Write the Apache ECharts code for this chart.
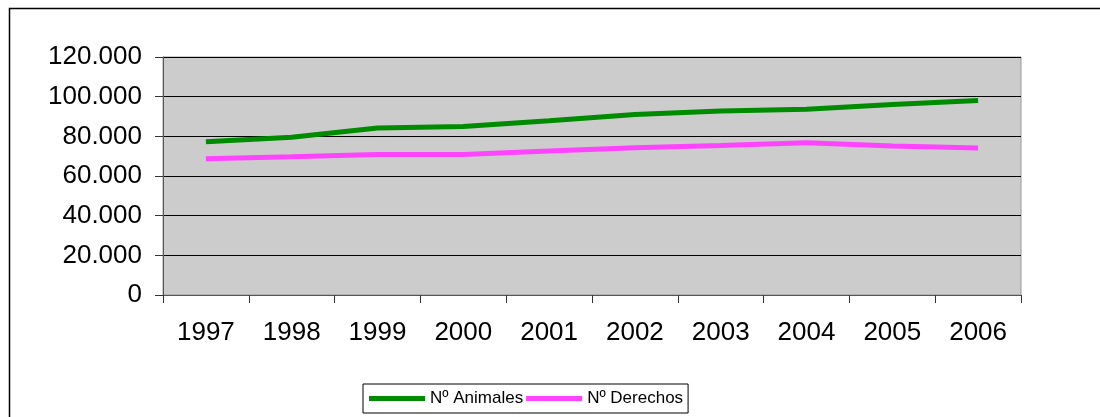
<!DOCTYPE html>
<html>
<head>
<meta charset="utf-8">
<script src="https://cdn.jsdelivr.net/npm/echarts@6/dist/echarts.min.js"></script>
<style>
html,body{margin:0;padding:0;background:#fff;}
#c{width:1100px;height:417px;}
</style>
</head>
<body>
<div id="c"></div>
<script>
const categories = ['1997','1998','1999','2000','2001','2002','2003','2004','2005','2006'];
const animales = [77300, 79500, 84200, 85000, 87800, 91000, 92800, 93600, 96000, 98100];
const derechos = [68700, 69700, 70900, 70900, 72600, 74300, 75400, 76800, 75100, 74100];
const seriesNames = ['Nº Animales', 'Nº Derechos'];

const chart = echarts.init(document.getElementById('c'), null, {renderer: 'canvas'});
const FONT = 'Liberation Sans, Arial, sans-serif';
chart.setOption({
  animation: false,
  backgroundColor: '#ffffff',
  graphic: [{
    type: 'rect', left: 7, top: 6,
    shape: {width: 1200, height: 500},
    style: {fill: 'none', stroke: '#000', lineWidth: 1.5},
    z: -10
  }],
  grid: {
    left: 163, top: 57, right: 79, bottom: 122,
    show: true, backgroundColor: '#CCCCCC', borderColor: '#999999', borderWidth: 1
  },
  legend: {
    left: 363, top: 384,
    padding: [6, 5, 6, 6],
    borderColor: '#000', borderWidth: 1,
    itemGap: 3, itemWidth: 56, itemHeight: 5,
    icon: 'rect',
    textStyle: {fontFamily: FONT, fontSize: 17, color: '#000'},
    data: seriesNames
  },
  xAxis: {
    type: 'category', data: categories, boundaryGap: true,
    axisLine: {lineStyle: {color: '#555', width: 1}},
    axisTick: {show: true, length: 8, inside: false, lineStyle: {color: '#333'}},
    axisLabel: {fontFamily: FONT, fontSize: 26, color: '#000', margin: 25}
  },
  yAxis: {
    type: 'value', min: 0, max: 120000, interval: 20000,
    axisLine: {show: true, lineStyle: {color: '#555', width: 1}},
    axisTick: {show: true, length: 8, lineStyle: {color: '#333'}},
    splitLine: {show: true, lineStyle: {color: '#000', width: 1}},
    axisLabel: {
      fontFamily: FONT, fontSize: 26, color: '#000', margin: 21,
      formatter: v => v === 0 ? '0' : String(v).replace(/\B(?=(\d{3})+(?!\d))/g, '.')
    }
  },
  series: [
    {name: seriesNames[0], type: 'line', data: animales, showSymbol: false, symbol: 'none',
     lineStyle: {color: '#008C00', width: 5}, itemStyle: {color: '#008C00'}},
    {name: seriesNames[1], type: 'line', data: derechos, showSymbol: false, symbol: 'none',
     lineStyle: {color: '#FF44FF', width: 5}, itemStyle: {color: '#FF44FF'}}
  ]
});
</script>
</body>
</html>
